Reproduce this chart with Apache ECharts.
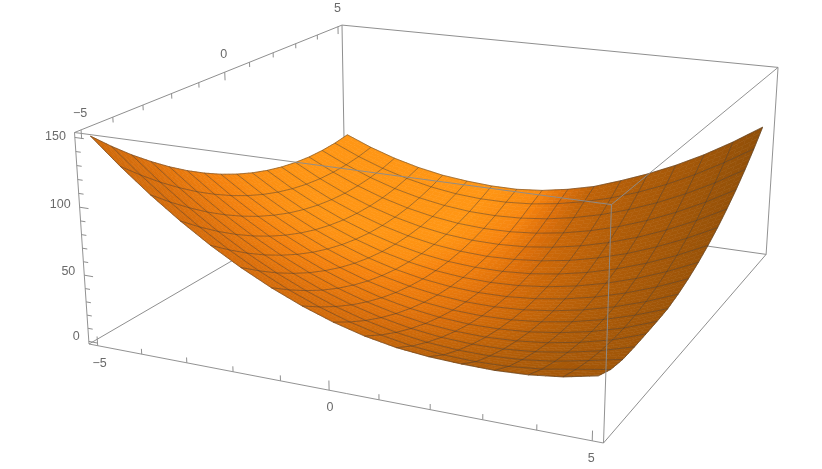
<!DOCTYPE html>
<html><head><meta charset="utf-8"><style>html,body{margin:0;background:#fff}#c{width:822px;height:469px}</style>
<script src="https://cdn.jsdelivr.net/npm/echarts@6/dist/echarts.min.js"></script></head><body><div id="c"></div>
<script>
const gridX=[-5,-4.375,-3.75,-3.125,-2.5,-1.875,-1.25,-0.625,0,0.625,1.25,1.875,2.5,3.125,3.75,4.375,5];
const gridY=[-5,-4.375,-3.75,-3.125,-2.5,-1.875,-1.25,-0.625,0,0.625,1.25,1.875,2.5,3.125,3.75,4.375,5];
// surface height at each mesh node, one row per gridY value
const zRows=[
[150,131.2,114,98.4,84.3,71.9,61,51.7,44,38,33.8,31.5,30.5,30.2,31.3,34.1,39],
[136.7,118.6,102,87,73.6,61.8,51.5,42.8,35.7,30.2,26.2,23.9,23.1,23.9,26.2,30.2,34.2],
[124.4,106.9,91,76.6,63.8,52.6,43,34.9,28.4,23.5,20.2,18.5,18.3,19.7,22.7,27.3,32.2],
[113.2,96.3,80.9,67.2,55,44.5,35.4,28,22.2,17.9,15.2,14.1,14.5,16.6,20.2,25.4,32.2],
[102.9,86.6,71.9,58.8,47.3,37.3,28.9,22.1,16.9,13.2,11.2,10.7,11.8,14.4,18.7,24.5,32.7],
[93.6,78,63.9,51.4,40.5,31.2,23.4,17.2,12.6,9.6,8.1,8.3,10,13.3,18.1,24.6,33.3],
[85.3,70.3,56.8,45,34.7,26,18.8,13.3,9.3,6.9,6.1,6.9,9.2,13.1,18.6,25.7,34.3],
[78,63.6,50.8,39.6,29.9,21.8,15.3,10.4,7,5.2,5,6.4,9.4,13.9,20,27.7,37],
[71.7,57.9,45.7,35.1,26.1,18.6,12.7,8.4,5.7,4.6,5,7,10.6,15.7,22.5,30.8,40.7],
[66.4,53.2,41.7,31.7,23.3,16.4,11.2,7.5,5.4,4.9,5.9,8.6,12.8,18.6,25.9,34.9,45.4],
[62.1,49.5,38.6,29.2,21.4,15.2,10.6,7.5,6.1,6.2,7.8,11.1,15.9,22.3,30.3,39.9,51.1],
[58.7,46.8,36.5,27.8,20.6,15,11,8.6,7.7,8.5,10.8,14.6,20.1,27.1,35.8,46,57.7],
[56.4,45.1,35.4,27.3,20.8,15.8,12.4,10.6,10.4,11.7,14.7,19.2,25.3,32.9,42.2,53,65.4],
[55,44.4,35.3,27.8,21.9,17.6,14.8,13.6,14,16,19.6,24.7,31.4,39.7,49.6,61,74],
[54.7,44.7,36.2,29.3,24.1,20.4,18.2,17.7,18.7,21.3,25.5,31.2,38.6,47.5,58,70,83.7],
[55.3,45.9,38.1,31.9,27.2,24.1,22.6,22.7,24.3,27.6,32.4,38.7,46.7,56.2,67.4,80.1,94.3],
[57,48.2,41,35.4,31.3,28.9,27.5,27.5,29.5,33.5,39,47,55.8,66,77.7,91.1,106]];
// surface brightness read at coarser nodes, rows along shadeAxis
const shadeAxis=[-5,-3.75,-2.5,-1.25,0,1.25,2.5,3.75,5];
const shadeRows=[
[.62,.64,.66,.65,.63,.52,.40,.33,.28],
[.68,.72,.74,.72,.67,.56,.44,.34,.26],
[.78,.82,.84,.80,.74,.62,.48,.35,.25],
[.88,.92,.92,.88,.80,.66,.50,.35,.22],
[.94,.97,.97,.94,.83,.67,.50,.35,.21],
[.97,1,1,.97,.86,.65,.47,.33,.18],
[1,1,1,1,.90,.60,.43,.30,.15],
[1,1,1,1,.92,.55,.40,.27,.12],
[1,1,1,1,.94,.50,.38,.25,.10]];
const xTicks=[-5,-4,-3,-2,-1,0,1,2,3,4,5];
const yTicks=[-5,-4,-3,-2,-1,0,1,2,3,4,5];
const zTicks=[0,10,20,30,40,50,60,70,80,90,100,110,120,130,140,150];
const xLabels=[-5,0,5], yLabels=[-5,0,5], zLabels=[0,50,100,150];
const RX=[-5.2,5.2],RY=[-5.2,5.2],RZ=[-2,153.5];
// camera: image of the box corners plus perspective terms
const O=[89,344],Ux=[603.5,443],Vy=[345,195],Wz=[74.5,132.5],g=-.125,h=.27,k=-.04;
const ax=[Ux[0]*(1+g)-O[0],Vy[0]*(1+h)-O[0],Wz[0]*(1+k)-O[0]];
const ay=[Ux[1]*(1+g)-O[1],Vy[1]*(1+h)-O[1],Wz[1]*(1+k)-O[1]];
function pr(x,y,z){const u=(x-RX[0])/(RX[1]-RX[0]),v=(y-RY[0])/(RY[1]-RY[0]),w=(z-RZ[0])/(RZ[1]-RZ[0]);
 const d=1+g*u+h*v+k*w;return [(O[0]+ax[0]*u+ax[1]*v+ax[2]*w)/d,(O[1]+ay[0]*u+ay[1]*v+ay[2]*w)/d];}
const stops=[[0,135,75,8],[.4,175,92,8],[.7,218,110,10],[.9,245,130,14],[1,255,150,20]];
function ramp(t){t=Math.max(0,Math.min(1,t));for(let i=1;i<stops.length;i++){if(t<=stops[i][0]){const a=stops[i-1],b=stops[i],f=(t-a[0])/(b[0]-a[0]);
 return `rgb(${Math.round(a[1]+(b[1]-a[1])*f)},${Math.round(a[2]+(b[2]-a[2])*f)},${Math.round(a[3]+(b[3]-a[3])*f)})`;}}return 'rgb(255,150,20)';}
function shade(x,y){const s=shadeAxis[1]-shadeAxis[0],fx=Math.min(7.999,(x-shadeAxis[0])/s),fy=Math.min(7.999,(y-shadeAxis[0])/s),i=Math.floor(fx),j=Math.floor(fy),a=fx-i,b=fy-j;
 return (shadeRows[j][i]*(1-a)+shadeRows[j][i+1]*a)*(1-b)+(shadeRows[j+1][i]*(1-a)+shadeRows[j+1][i+1]*a)*b;}
const SUB=4;
const n=gridX.length;
const cells=[];for(let j=n-2;j>=0;j--)for(let i=0;i<n-1;i++)cells.push([i,j]);
function node(i,j,a,b){const x=gridX[i]+(gridX[i+1]-gridX[i])*a,y=gridY[j]+(gridY[j+1]-gridY[j])*b;
 const z00=zRows[j][i],z10=zRows[j][i+1],z01=zRows[j+1][i],z11=zRows[j+1][i+1];
 return [x,y,(z00*(1-a)+z10*a)*(1-b)+(z01*(1-a)+z11*a)*b];}
function surfaceItem(p,api){const i=api.value(0),j=api.value(1),ch=[];
 for(let b=SUB-1;b>=0;b--)for(let a=0;a<SUB;a++){const q=[node(i,j,a/SUB,b/SUB),node(i,j,(a+1)/SUB,b/SUB),node(i,j,(a+1)/SUB,(b+1)/SUB),node(i,j,a/SUB,(b+1)/SUB)];
  const cx=(q[0][0]+q[2][0])/2,cy=(q[0][1]+q[2][1])/2,col=ramp(shade(cx,cy));
  ch.push({type:'polygon',shape:{points:q.map(t=>api.coord(pr(t[0],t[1],t[2])))},style:{fill:col,stroke:col,lineWidth:.6}});}
 return {type:'group',children:ch};}
const meshLines=[];for(let j=0;j<n;j++)meshLines.push(zRows[j].map((z,i)=>[gridX[i],gridY[j],z]));
for(let i=0;i<n;i++)meshLines.push(zRows.map((r,j)=>[gridX[i],gridY[j],r[i]]));
function meshItem(p,api){const L=meshLines[api.value(0)],pts=L.map(t=>api.coord(pr(t[0],t[1],t[2])));
 return {type:'polyline',shape:{points:pts},style:{fill:null,stroke:'rgba(70,60,50,.6)',lineWidth:.8}};}
const c=[[RX[0],RY[0]],[RX[1],RY[0]],[RX[1],RY[1]],[RX[0],RY[1]]];
const backEdges=[],frontEdges=[];
for(let q=0;q<4;q++){const a=c[q],b=c[(q+1)%4];
 const low=[[a[0],a[1],RZ[0]],[b[0],b[1],RZ[0]]],high=[[a[0],a[1],RZ[1]],[b[0],b[1],RZ[1]]],vert=[[a[0],a[1],RZ[0]],[a[0],a[1],RZ[1]]];
 if(q==0){frontEdges.push(low,high,vert);} else if(q==1){frontEdges.push(high,vert);backEdges.push(low);}
 else if(q==2){backEdges.push(low,high);frontEdges.push(vert);} else {backEdges.push(low,high,vert);}
}
const tickSegs=[];
xTicks.forEach(x=>{const m=x%5===0;tickSegs.push([[x,RY[0],RZ[0]],[x,RY[0],RZ[0]+(m?7:4)]]);});
yTicks.forEach(y=>{const m=y%5===0;tickSegs.push([[RX[0],y,RZ[1]],[RX[0],y,RZ[1]-(m?6.5:3.9)]]);});
zTicks.forEach(z=>{const m=z%50===0;tickSegs.push([[RX[0],RY[0],z],[RX[0]+(m?.2:.11),RY[0],z]]);});
function segItem(list,col,w){return (p,api)=>{const s=list[api.value(0)],A=api.coord(pr(...s[0])),B=api.coord(pr(...s[1]));return {type:'line',shape:{x1:A[0],y1:A[1],x2:B[0],y2:B[1]},style:{stroke:col,lineWidth:w}};};}
const labels=[];
const xOff=[[2,18],[1,17],[-1,18]],yOff=[[-1,-16],[-1,-18],[-.5,-18.5]],zOff=[[-9,-5],[-9,-4],[-9,-3],[-9,-1]];
xLabels.forEach((x,i)=>labels.push([x,RY[0],RZ[0],x,xOff[i][0],xOff[i][1],'center']));
yLabels.forEach((y,i)=>labels.push([RX[0],y,RZ[1],y,yOff[i][0],yOff[i][1],'center']));
zLabels.forEach((z,i)=>labels.push([RX[0],RY[0],z,z,zOff[i][0],zOff[i][1],'right']));
function labelItem(p,api){const L=labels[api.value(0)],P=api.coord(pr(L[0],L[1],L[2]));
 return {type:'text',x:P[0]+L[4],y:P[1]+L[5],style:{text:String(L[3]).replace('-','\u2212'),fontFamily:'Liberation Sans',fontSize:12.5,fill:'#6a6a6a',align:L[6],verticalAlign:'middle'}};}
const idx=a=>a.map((_,i)=>[i]);
function cs(name,data,render,z){return {name,type:'custom',coordinateSystem:'cartesian2d',data,renderItem:render,silent:true,z,clip:false,animation:false,encode:{x:[],y:[]}};}
const chart=echarts.init(document.getElementById('c'),null,{renderer:'canvas'});
chart.setOption({animation:false,backgroundColor:'#fff',tooltip:{show:false},
 grid:{left:0,right:0,top:0,bottom:0},
 xAxis:{type:'value',min:0,max:822,show:false},yAxis:{type:'value',min:0,max:469,inverse:true,show:false},
 series:[
  cs('back edges',idx(backEdges),segItem(backEdges,'#8f8f8f',1),1),
  cs('surface',cells,surfaceItem,2),
  cs('mesh',idx(meshLines),meshItem,3),
  cs('front edges',idx(frontEdges),segItem(frontEdges,'rgba(140,140,140,.95)',1),4),
  cs('ticks',idx(tickSegs),segItem(tickSegs,'#8f8f8f',1),4),
  cs('labels',idx(labels),labelItem,5)
 ]});
</script></body></html>
